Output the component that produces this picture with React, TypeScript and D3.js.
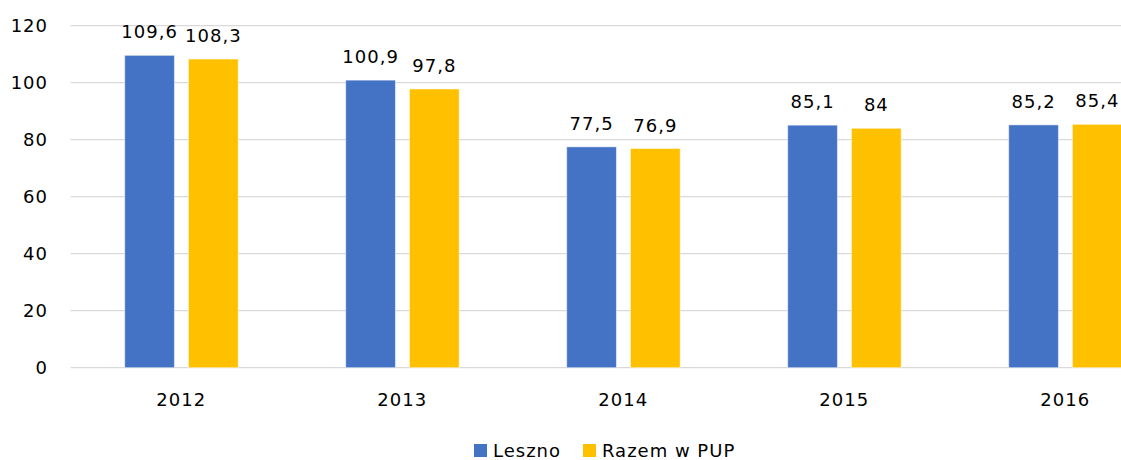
import React from 'react'
import * as d3 from 'd3'

// chart values
const years = ['2012', '2013', '2014', '2015', '2016']
const series = ['Leszno', 'Razem w PUP']
const leszno = [109.6, 100.9, 77.5, 85.1, 85.2]
const razem = [108.3, 97.8, 76.9, 84, 85.4]
const yTicks = [0, 20, 40, 60, 80, 100, 120]
const colors = ['#4472C4', '#FFC000']

const W = 1121
const H = 460
const FONT = '"DejaVu Sans", Verdana, sans-serif'

export default function App() {
  const values = [leszno, razem]

  // plot runs past the right edge of the window (cropped chart)
  const x = d3.scaleBand().domain(years).range([70.7, 70.7 + 221 * years.length]).padding(0)
  const xInner = d3.scaleBand().domain(series).range([-56.5, 57]).paddingInner(0.22).paddingOuter(0)
  const y = d3.scaleLinear().domain([0, 120]).range([367.7, 25.7])

  const fmt = (v: number) => String(v).replace('.', ',')

  return (
    <svg
      width={W}
      height={H}
      style={{ position: 'fixed', left: 0, top: 0, background: '#fff' }}
      fontFamily={FONT}
    >
      <rect x={0} y={0} width={W} height={H} fill="#fff" />

      {/* grid */}
      {yTicks.map(t => (
        <line key={t} x1={70.7} x2={W} y1={y(t)} y2={y(t)} stroke="#d9d9d9" strokeWidth={1.3} />
      ))}

      {/* y labels */}
      {yTicks.map(t => (
        <text
          key={t}
          x={48}
          y={y(t) + 6.5}
          textAnchor="end"
          fontSize={18}
          letterSpacing={1}
          fill="#000"
        >
          {t}
        </text>
      ))}

      {/* bars */}
      {years.map((yr, i) => {
        const cx = x(yr)! + x.bandwidth() / 2
        return (
          <g key={yr}>
            {series.map((s, j) => {
              const v = values[j][i]
              const bx = cx + xInner(s)!
              return (
                <g key={s}>
                  <rect
                    x={bx}
                    y={y(v)}
                    width={xInner.bandwidth()}
                    height={y(0) - y(v)}
                    fill={colors[j]}
                    stroke="#fff"
                    strokeOpacity={0.5}
                    strokeWidth={1}
                  />
                  <text
                    x={bx + xInner.bandwidth() / 2}
                    y={y(v) - 17}
                    textAnchor="middle"
                    fontSize={18}
                    letterSpacing={1}
                    fill="#000"
                  >
                    {fmt(v)}
                  </text>
                </g>
              )
            })}
            <text x={cx} y={406} textAnchor="middle" fontSize={18} letterSpacing={1} fill="#000">
              {yr}
            </text>
          </g>
        )
      })}

      {/* legend */}
      {series.map((s, j) => {
        const lx = j === 0 ? 474 : 583
        return (
          <g key={s}>
            <rect x={lx} y={444} width={13} height={13} fill={colors[j]} />
            <text x={lx + 19} y={457} fontSize={18} letterSpacing={1} fill="#000">
              {s}
            </text>
          </g>
        )
      })}
    </svg>
  )
}
